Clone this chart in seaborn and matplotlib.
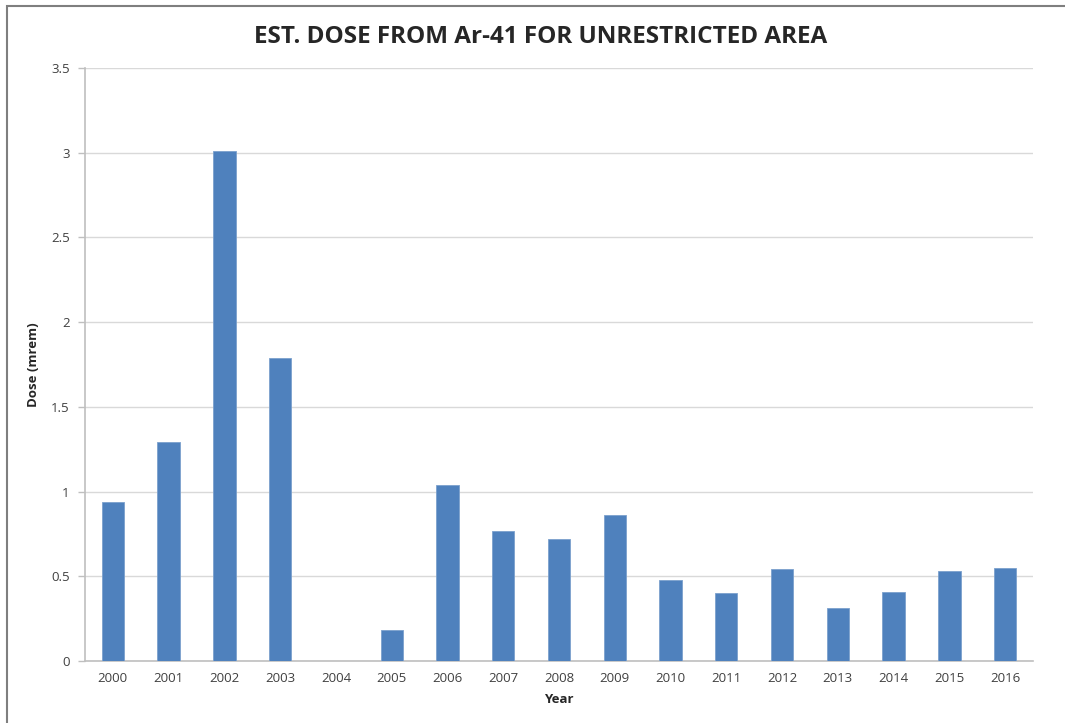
import matplotlib
matplotlib.use("Agg")
import matplotlib.pyplot as plt
import seaborn as sns
import pandas as pd
from matplotlib.patches import Rectangle

# Veriler
years = ['2000', '2001', '2002', '2003', '2004', '2005', '2006', '2007', '2008',
         '2009', '2010', '2011', '2012', '2013', '2014', '2015', '2016']
dose = [0.94, 1.29, 3.01, 1.79, 0.0, 0.18, 1.04, 0.77, 0.72,
        0.86, 0.48, 0.40, 0.54, 0.31, 0.41, 0.53, 0.55]
y_ticks = [0, 0.5, 1, 1.5, 2, 2.5, 3, 3.5]
y_tick_labels = ['0', '0.5', '1', '1.5', '2', '2.5', '3', '3.5']

df = pd.DataFrame({'Year': years, 'Dose': dose})

sns.set_style('white')
plt.rcParams['font.family'] = ['Open Sans', 'DejaVu Sans']

fig = plt.figure(figsize=(10.65, 7.23), dpi=100)
ax = fig.add_axes([0.0798, 0.0858, 0.8902, 0.8202])

sns.barplot(data=df, x='Year', y='Dose', color='#4F81BD', width=0.4,
            saturation=1, edgecolor='#7BA0CD', linewidth=0.6, ax=ax, zorder=3)

ax.set_ylim(0, 3.5)
ax.set_xlim(-0.5, len(years) - 0.5)
ax.set_yticks(y_ticks)
ax.set_yticklabels(y_tick_labels)
ax.yaxis.grid(True, color='#D9D9D9', linewidth=1, zorder=0)
ax.set_axisbelow(True)

for s in ['top', 'right']:
    ax.spines[s].set_visible(False)
for s in ['left', 'bottom']:
    ax.spines[s].set_color('#BFBFBF')
    ax.spines[s].set_linewidth(1.2)

ax.tick_params(axis='y', length=5, color='#BFBFBF', width=1, labelsize=9.5,
               labelcolor='#404040', pad=6, left=True)
ax.tick_params(axis='x', length=0, labelsize=9.5, labelcolor='#404040', pad=8)

ax.set_xlabel('Year', fontsize=9.5, fontweight='bold', labelpad=6)
ax.set_ylabel('Dose (mrem)', fontsize=9.5, fontweight='bold', labelpad=8)

fig.text(0.508, 0.949, 'EST. DOSE FROM Ar-41 FOR UNRESTRICTED AREA',
         ha='center', va='center', fontsize=17.5, fontweight='bold')

# Dış çerçeve
fig.patches.append(Rectangle((0.0066, -0.01), 1.1, 1.002, transform=fig.transFigure,
                             fill=False, edgecolor='#7F7F7F', linewidth=1.5))

fig.savefig('out.png', dpi=100)
